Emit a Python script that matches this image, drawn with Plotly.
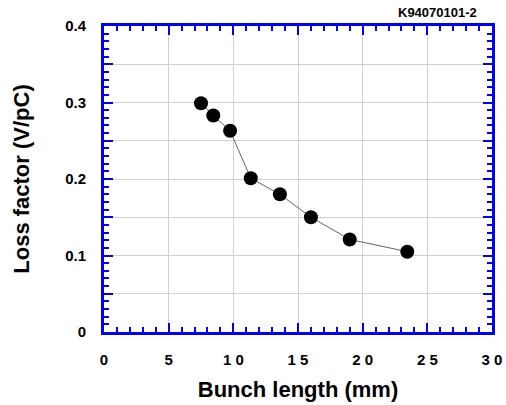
import plotly.graph_objects as go

# Loss factor vs. bunch length
bunch_length_mm = [7.5, 8.45, 9.75, 11.35, 13.6, 16.0, 19.0, 23.45]
loss_factor_v_pc = [0.299, 0.283, 0.263, 0.201, 0.180, 0.150, 0.121, 0.105]

x_tick_vals = [0, 5, 10, 15, 20, 25, 30]
x_tick_text = ["0", "5", "1 0", "1 5", "2 0", "2 5", "3 0"]
y_tick_vals = [0, 0.05, 0.1, 0.15, 0.2, 0.25, 0.3, 0.35, 0.4]
y_tick_text = ["0", "", "0.1", "", "0.2", "", "0.3", "", "0.4"]

BLUE = "#0000ff"
FONT = "Liberation Sans, Arial, sans-serif"

fig = go.Figure()
fig.add_trace(go.Scatter(
    x=bunch_length_mm, y=loss_factor_v_pc,
    mode="lines+markers",
    line=dict(color="#666666", width=1),
    marker=dict(color="black", size=14),
    showlegend=False,
))

axis_common = dict(
    showline=True, linecolor=BLUE, linewidth=3, mirror="ticks",
    ticks="inside", tickcolor=BLUE, tickwidth=2, ticklen=9,
    showgrid=True, gridcolor="#d0d0d0", gridwidth=1, zeroline=False,
    automargin=False,
    tickfont=dict(family=FONT, size=15, color="black", weight="bold"),
)

fig.update_xaxes(
    range=[0, 30], tickvals=x_tick_vals, ticktext=x_tick_text,
    minor=dict(dtick=1, tick0=0, ticks="inside", ticklen=5, tickcolor=BLUE, tickwidth=2, showgrid=False),
    title=dict(text="<b>Bunch length (mm)</b>", font=dict(family=FONT, size=22, color="black"), standoff=15),
    ticklabelstandoff=12,
    **axis_common,
)
fig.update_yaxes(
    range=[0, 0.4], tickvals=y_tick_vals, ticktext=y_tick_text,
    minor=dict(dtick=0.01, tick0=0, ticks="inside", ticklen=5, tickcolor=BLUE, tickwidth=2, showgrid=False),
    title=dict(text="<b>Loss factor (V/pC)</b>", font=dict(family=FONT, size=22, color="black"), standoff=30),
    ticklabelstandoff=12,
    **axis_common,
)

fig.add_annotation(
    text="<b>K94070101-2</b>", x=1.0, y=1.0, xref="paper", yref="paper",
    xanchor="right", yanchor="bottom", yshift=4, xshift=-13, showarrow=False,
    font=dict(family=FONT, size=13, color="black"),
)

fig.update_layout(
    width=506, height=405,
    margin=dict(l=104, r=14, t=26, b=73),
    plot_bgcolor="white", paper_bgcolor="white",
)

fig.write_html("out.html")
